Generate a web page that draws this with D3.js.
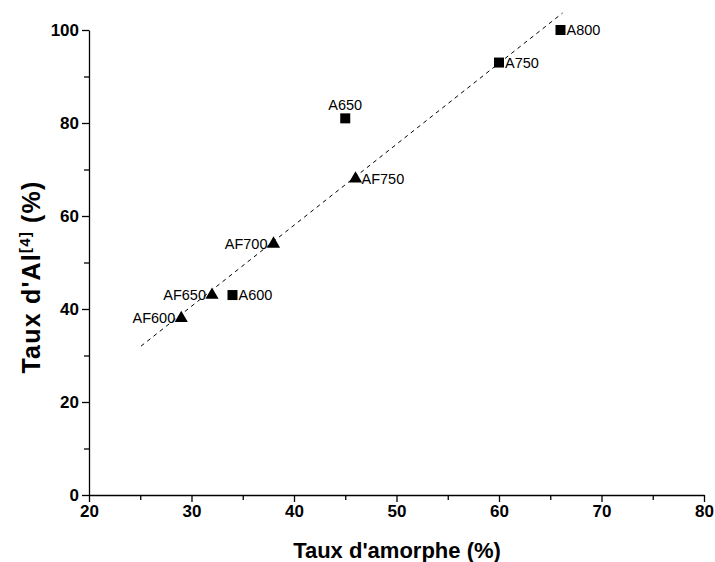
<!DOCTYPE html>
<html><head><meta charset="utf-8">
<script src="https://cdn.jsdelivr.net/npm/d3@7"></script>
<style>body{margin:0;background:#fff}svg{display:block}</style>
</head><body>
<script>
const aLabels = ["A600","A650","A750","A800"];
const aX = [34,45,60,66];
const aY = [43,81,93,100];
const afLabels = ["AF600","AF650","AF700","AF750"];
const afX = [29,32,38,46];
const afY = [38,43,54,68];
const fitX = [25.07,66.2];
const fitSlope = 1.742, fitIntercept = -11.67;
const xTicks = [20,30,40,50,60,70,80];
const yTicks = [0,20,40,60,80,100];

const W=715,H=562;
const svg=d3.select("body").append("svg").attr("width",W).attr("height",H);
const x=d3.scaleLinear().domain([20,80]).range([89,704]);
const y=d3.scaleLinear().domain([0,100]).range([495,30]);
const font="'Liberation Sans', Arial, sans-serif";

// axes
svg.append("g").attr("transform","translate(0,495)")
  .call(d3.axisBottom(x).tickValues(xTicks).tickSize(7).tickPadding(3).tickSizeOuter(0).tickFormat(d3.format("d")));
const xMinor=svg.append("g").attr("transform","translate(0,495)")
  .call(d3.axisBottom(x).tickValues(d3.range(25,80,10)).tickSize(5).tickFormat("").tickSizeOuter(0));
xMinor.select(".domain").remove();
svg.append("g").attr("transform","translate(89,0)")
  .call(d3.axisLeft(y).tickValues(yTicks).tickSize(7).tickPadding(3).tickSizeOuter(0).tickFormat(d3.format("d")));
const yMinor=svg.append("g").attr("transform","translate(89,0)")
  .call(d3.axisLeft(y).tickValues(d3.range(10,100,20)).tickSize(5).tickFormat("").tickSizeOuter(0));
yMinor.select(".domain").remove();
svg.selectAll(".domain,.tick line").attr("stroke","#000").attr("stroke-width",1.3);
svg.selectAll(".tick text").attr("font-family",font).attr("font-weight","bold").attr("font-size",17).attr("fill","#000");

// fit line
svg.append("line")
  .attr("x1",x(fitX[0])).attr("y1",y(fitSlope*fitX[0]+fitIntercept))
  .attr("x2",x(fitX[1])).attr("y2",y(fitSlope*fitX[1]+fitIntercept))
  .attr("stroke","#000").attr("stroke-width",1).attr("stroke-dasharray","4,4");

// markers
const aData=aLabels.map((l,i)=>({l,x:aX[i],y:aY[i]}));
const afData=afLabels.map((l,i)=>({l,x:afX[i],y:afY[i]}));
svg.selectAll("rect.a").data(aData).enter().append("rect")
  .attr("x",d=>x(d.x)-5).attr("y",d=>y(d.y)-5).attr("width",10).attr("height",10).attr("fill","#000");
const tri=d3.symbol().type(d3.symbolTriangle).size(75);
svg.selectAll("path.af").data(afData).enter().append("path")
  .attr("d",tri).attr("transform",d=>`translate(${x(d.x)},${y(d.y)})`).attr("fill","#000");

// labels
svg.selectAll("text.al").data(aData).enter().append("text")
  .attr("font-family",font).attr("font-size",14.5)
  .attr("x",d=>d.l==="A650"?x(d.x):x(d.x)+6)
  .attr("y",d=>d.l==="A650"?y(d.y)-8.5:y(d.y)+5)
  .attr("text-anchor",d=>d.l==="A650"?"middle":"start")
  .text(d=>d.l);
svg.selectAll("text.afl").data(afData).enter().append("text")
  .attr("font-family",font).attr("font-size",14.5)
  .attr("x",d=>d.l==="AF750"?x(d.x)+6:x(d.x)-6)
  .attr("y",d=>y(d.y)+5)
  .attr("text-anchor",d=>d.l==="AF750"?"start":"end")
  .text(d=>d.l);

// titles
svg.append("text").attr("x",397).attr("y",558).attr("text-anchor","middle")
  .attr("font-family",font).attr("font-weight","bold").attr("font-size",22)
  .text("Taux d'amorphe (%)");
const yt=svg.append("text").attr("transform","translate(40,277) rotate(-90)").attr("text-anchor","middle")
  .attr("font-family",font).attr("font-weight","bold").attr("font-size",25).attr("letter-spacing",1.2);
yt.append("tspan").text("Taux d'Al");
yt.append("tspan").attr("font-size",15).attr("dy",-10).text("[4]");
yt.append("tspan").attr("dy",10).text(" (%)");
</script>
</body></html>
